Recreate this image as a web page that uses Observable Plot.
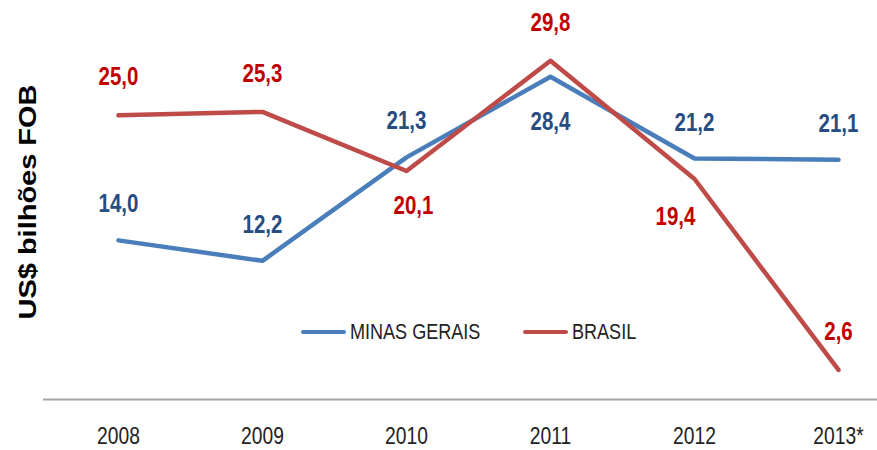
<!DOCTYPE html>
<html>
<head>
<meta charset="utf-8">
<script src="https://cdn.jsdelivr.net/npm/d3@7"></script>
<script src="https://cdn.jsdelivr.net/npm/@observablehq/plot@0.6"></script>
<style>
  body { margin: 0; background: #fff; }
  #wrap { position: relative; width: 877px; height: 450px; }
  .lg { position: absolute; font-family: "Liberation Sans", Arial, sans-serif; font-size: 22px; color: #222;
        transform: scaleX(0.82); transform-origin: left center; white-space: nowrap; line-height: 1; }
  .sw { position: absolute; height: 4px; border-radius: 2px; }
</style>
</head>
<body>
<div id="wrap"></div>
<script>
const years = ["2008", "2009", "2010", "2011", "2012", "2013*"];
const minasGerais = [14.0, 12.2, 21.3, 28.4, 21.2, 21.1];
const brasil = [25.0, 25.3, 20.1, 29.8, 19.4, 2.6];
const seriesNames = ["MINAS GERAIS", "BRASIL"];
const yLabel = "US$ bilhões FOB";

const blue = "#4A7EBB", red = "#BE4B48";
const blueText = "#264C82", redText = "#C00000";
const font = '"Liberation Sans", Arial, sans-serif';

const mg = years.map((y, i) => ({year: y, value: minasGerais[i]}));
const br = years.map((y, i) => ({year: y, value: brasil[i]}));
const fmt = d => d3.format(".1f")(d.value).replace(".", ",");

// label placement: above the line, except where the other series crowds them
const mgBelow = new Set(["2011"]);
const brBelow = new Set(["2010", "2012"]);
const lbl = (data, fill, dy, dx = 0) =>
  Plot.text(data, {x: "year", y: "value", text: fmt, dx, dy, fill, fontSize: 25, fontWeight: "bold", className: "narrow"});

const plot = Plot.plot({
  width: 877,
  height: 450,
  marginLeft: 43,
  marginRight: 0,
  marginTop: 58,
  marginBottom: 51,
  style: {fontFamily: font, background: "#fff"},
  x: {type: "point", domain: years, padding: 0, insetLeft: 74, insetRight: 39, label: null},
  y: {domain: [0, 30], axis: null},
  marks: [
    Plot.ruleY([0], {stroke: "#A6A6A6", strokeWidth: 2}),
    Plot.axisX({tickSize: 0, tickPadding: 28, fontSize: 23.5, fill: "#222", label: null, className: "narrow"}),
    Plot.line(mg, {x: "year", y: "value", stroke: blue, strokeWidth: 4.5}),
    Plot.line(br, {x: "year", y: "value", stroke: red, strokeWidth: 4.5}),
    lbl(mg.filter(d => !mgBelow.has(d.year)), blueText, -36),
    lbl(mg.filter(d => mgBelow.has(d.year)), blueText, 45),
    lbl(br.filter(d => !brBelow.has(d.year)), redText, -38),
    lbl(br.filter(d => d.year === "2010"), redText, 35, 7),
    lbl(br.filter(d => d.year === "2012"), redText, 38, -19),
    Plot.text([yLabel], {frameAnchor: "left", textAnchor: "middle", rotate: -90, dx: -15, dy: -27, fontSize: 24, fontWeight: "bold", fill: "#000", className: "ylab"})
  ]
});
document.getElementById("wrap").appendChild(plot);
d3.select(plot).selectAll(".ylab text").attr("textLength", 235).attr("lengthAdjust", "spacingAndGlyphs");
// emulate a narrow typeface by horizontal compression
d3.select(plot).selectAll(".narrow text").each(function() {
  const t = this.getAttribute("transform") || "";
  this.setAttribute("transform", t + " scale(0.82,1)");
});

const wrap = document.getElementById("wrap");
function addItem(name, color, x) {
  const sw = document.createElement("div");
  sw.className = "sw";
  sw.style.background = color;
  sw.style.left = x + "px"; sw.style.top = "330px"; sw.style.width = "45px";
  wrap.appendChild(sw);
  const lb = document.createElement("div");
  lb.className = "lg";
  lb.textContent = name;
  lb.style.left = (x + 49) + "px"; lb.style.top = "321px";
  wrap.appendChild(lb);
}
addItem(seriesNames[0], blue, 301);
addItem(seriesNames[1], red, 523);
</script>
</body>
</html>
